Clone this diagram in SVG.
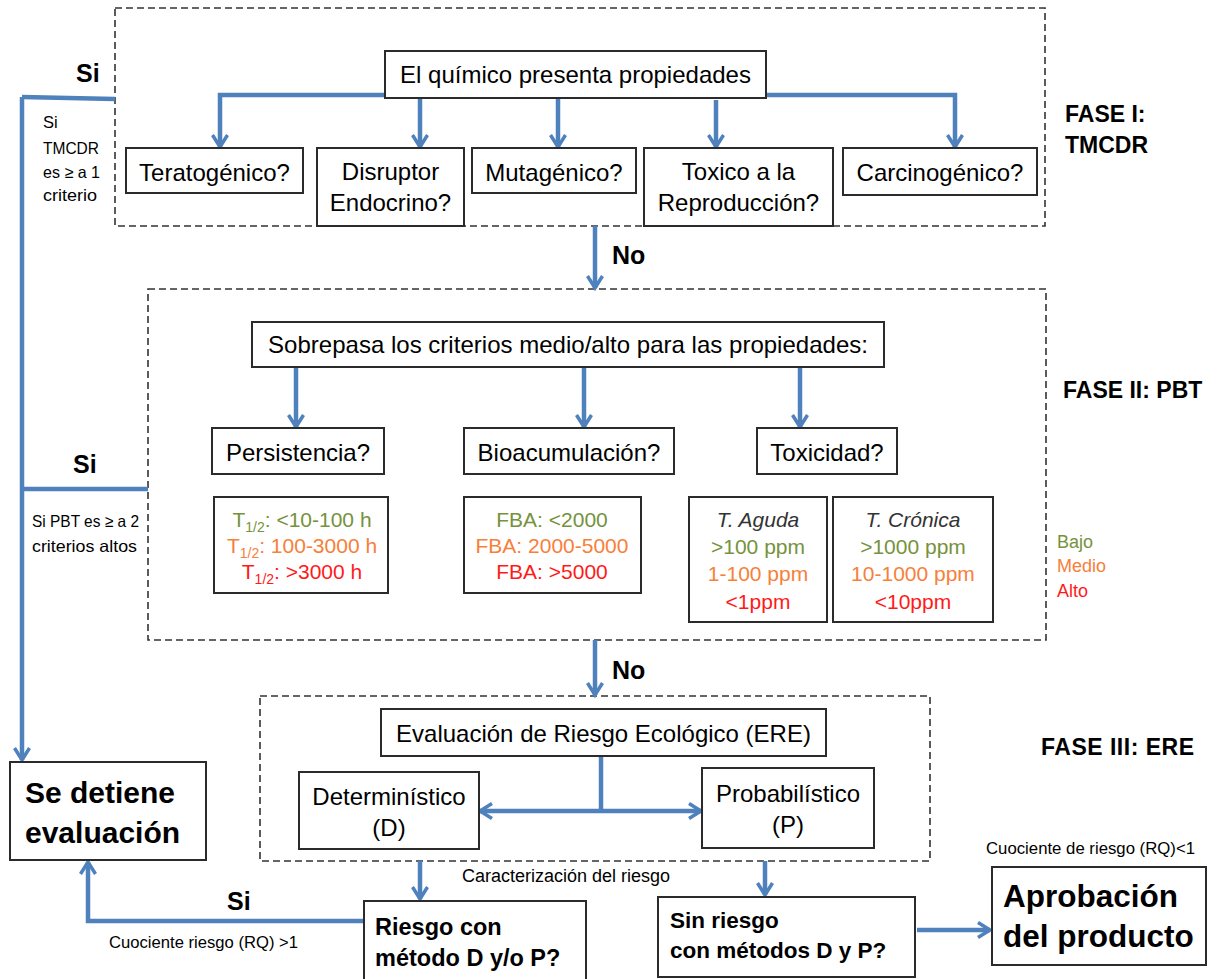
<svg xmlns="http://www.w3.org/2000/svg" width="1217" height="979" viewBox="0 0 1217 979">
<style>
text{font-family:"Liberation Sans",Arial,sans-serif;fill:#000}
.lbl{font-size:24px;text-anchor:middle}
.box{fill:#fff;stroke:#2b2b2b;stroke-width:2}
.dash{fill:none;stroke:#333;stroke-width:1.6;stroke-dasharray:7 4}
.c{fill:none;stroke:#4F81BD;stroke-width:4.5}
.ca{fill:none;stroke:#4F81BD;stroke-width:4.5;marker-end:url(#ah)}
.b{font-weight:bold}
.sm{font-size:16.5px}
.g{fill:#76923C}.o{fill:#F7803A}.r{fill:#FF1A1A}
.crit{font-size:21px;text-anchor:middle}
</style>
<defs>
<marker id="ah" viewBox="0 0 18 18" refX="14" refY="9" markerWidth="18" markerHeight="18" markerUnits="userSpaceOnUse" orient="auto">
<path d="M2,1.5 L14,9 L2,16.5" fill="none" stroke="#4F81BD" stroke-width="3.5"/>
</marker>
</defs>

<rect class="dash" x="115" y="8" width="930" height="218"/>
<rect class="dash" x="148" y="289" width="898" height="351"/>
<rect class="dash" x="260" y="696" width="670" height="165"/>

<g id="connectors">
<path class="ca" d="M385,95 H220 V147"/>
<path class="ca" d="M766,95 H955 V147"/>
<path class="ca" d="M420,98 V147"/>
<path class="ca" d="M558,98 V147"/>
<path class="ca" d="M716,100 V147"/>
<path class="ca" d="M595,226 V288"/>
<path class="c" d="M115,99 L22,97"/>
<path class="ca" d="M22,97 V760"/>
<path class="c" d="M148,489 H22"/>
<path class="ca" d="M296,367 V427"/>
<path class="ca" d="M584,367 V427"/>
<path class="ca" d="M800,367 V427"/>
<path class="ca" d="M595,640 V695"/>
<path class="c" d="M601,756 V811"/>
<path class="ca" d="M601,811 H480"/>
<path class="ca" d="M601,811 H701"/>
<path class="ca" d="M420,861 V899"/>
<path class="ca" d="M765,861 V895"/>
<path class="ca" d="M364,921 H88 V862"/>
<path class="ca" d="M917,930 H990"/>
</g>

<g id="n-quimico"><rect class="box" x="385" y="51" width="381" height="47"/><text class="lbl" x="575.5" y="83">El químico presenta propiedades</text></g>
<g id="n-terato"><rect class="box" x="126" y="148" width="177" height="45"/><text class="lbl" x="214.5" y="181" font-size="23">Teratogénico?</text></g>
<g id="n-disruptor"><rect class="box" x="317" y="148" width="147" height="78"/><text class="lbl" x="390.5" y="180">Disruptor</text><text class="lbl" x="390.5" y="211">Endocrino?</text></g>
<g id="n-muta"><rect class="box" x="472" y="148" width="164" height="45"/><text class="lbl" x="554" y="181">Mutagénico?</text></g>
<g id="n-repro"><rect class="box" x="644" y="148" width="189" height="78"/><text class="lbl" x="738.5" y="180">Toxico a la</text><text class="lbl" x="738.5" y="211">Reproducción?</text></g>
<g id="n-carcino"><rect class="box" x="843" y="148" width="194" height="47"/><text class="lbl" x="940" y="181">Carcinogénico?</text></g>

<g id="l-fase1"><text class="b" x="1065" y="122" font-size="23">FASE I:</text><text class="b" x="1065" y="153" font-size="23">TMCDR</text></g>
<g id="l-si1"><text class="b" x="76" y="82" font-size="25">Si</text>
<text class="sm" x="43" y="128">Si</text><text class="sm" x="43" y="154" textLength="56" lengthAdjust="spacingAndGlyphs">TMCDR</text><text class="sm" x="43" y="178" textLength="57" lengthAdjust="spacingAndGlyphs">es ≥ a 1</text><text class="sm" x="43" y="201" textLength="54" lengthAdjust="spacingAndGlyphs">criterio</text></g>
<g id="l-no1"><text class="b" x="612" y="264" font-size="25">No</text></g>

<g id="n-sobrepasa"><rect class="box" x="252" y="322" width="632" height="45"/><text class="lbl" x="568" y="353" textLength="600">Sobrepasa los criterios medio/alto para las propiedades:</text></g>
<g id="n-persist"><rect class="box" x="212" y="428" width="172" height="46"/><text class="lbl" x="298" y="461">Persistencia?</text></g>
<g id="n-bioacum"><rect class="box" x="464" y="428" width="210" height="46"/><text class="lbl" x="569" y="461">Bioacumulación?</text></g>
<g id="n-toxic"><rect class="box" x="757" y="428" width="140" height="46"/><text class="lbl" x="827" y="461">Toxicidad?</text></g>

<g id="n-t12"><rect class="box" x="214" y="497" width="174" height="96"/>
<text class="crit g" x="302" y="527">T<tspan font-size="14" dy="5">1/2</tspan><tspan dy="-5">: &lt;10-100 h</tspan></text>
<text class="crit o" x="302" y="553">T<tspan font-size="14" dy="5">1/2</tspan><tspan dy="-5">: 100-3000 h</tspan></text>
<text class="crit r" x="302" y="579">T<tspan font-size="14" dy="5">1/2</tspan><tspan dy="-5">: &gt;3000 h</tspan></text></g>
<g id="n-fba"><rect class="box" x="464" y="497" width="177" height="96"/>
<text class="crit g" x="552" y="527">FBA: &lt;2000</text>
<text class="crit o" x="552" y="553">FBA: 2000-5000</text>
<text class="crit r" x="552" y="579">FBA: &gt;5000</text></g>
<g id="n-aguda"><rect class="box" x="689" y="497" width="138" height="125"/>
<text class="crit" x="758" y="527" font-style="italic" style="fill:#333">T. Aguda</text>
<text class="crit g" x="758" y="554">&gt;100 ppm</text>
<text class="crit o" x="758" y="581">1-100 ppm</text>
<text class="crit r" x="758" y="609">&lt;1ppm</text></g>
<g id="n-cronica"><rect class="box" x="833" y="497" width="160" height="125"/>
<text class="crit" x="913" y="527" font-style="italic" style="fill:#333">T. Crónica</text>
<text class="crit g" x="913" y="554">&gt;1000 ppm</text>
<text class="crit o" x="913" y="581">10-1000 ppm</text>
<text class="crit r" x="913" y="609">&lt;10ppm</text></g>
<g id="l-legend"><text class="g" x="1057" y="548" font-size="18">Bajo</text><text class="o" x="1057" y="572" font-size="18">Medio</text><text class="r" x="1057" y="597" font-size="18">Alto</text></g>
<g id="l-fase2"><text class="b" x="1063" y="398" font-size="23">FASE II: PBT</text></g>
<g id="l-si2"><text class="b" x="73" y="473" font-size="25">Si</text>
<text class="sm" x="32" y="527" textLength="107" lengthAdjust="spacingAndGlyphs">Si PBT es ≥ a 2</text><text class="sm" x="32" y="552" textLength="105" lengthAdjust="spacingAndGlyphs">criterios altos</text></g>
<g id="l-no2"><text class="b" x="612" y="679" font-size="25">No</text></g>

<g id="n-ere"><rect class="box" x="381" y="709" width="445" height="47"/><text class="lbl" x="603.5" y="742" font-size="22.5">Evaluación de Riesgo Ecológico (ERE)</text></g>
<g id="n-det"><rect class="box" x="299" y="772" width="180" height="77"/><text class="lbl" x="389" y="805" font-size="23">Determinístico</text><text class="lbl" x="389" y="836" font-size="23">(D)</text></g>
<g id="n-prob"><rect class="box" x="702" y="768" width="172" height="80"/><text class="lbl" x="788" y="802" font-size="23">Probabilístico</text><text class="lbl" x="788" y="833" font-size="23">(P)</text></g>
<g id="l-fase3"><text class="b" x="1041" y="755" font-size="23" textLength="153">FASE III: ERE</text></g>
<g id="l-caract"><text x="462" y="882" font-size="18">Caracterización del riesgo</text></g>

<g id="n-detiene"><rect class="box" x="10" y="762" width="196" height="98"/><text class="b" x="25" y="803" font-size="30">Se detiene</text><text class="b" x="25" y="843" font-size="30">evaluación</text></g>
<g id="n-riesgo"><rect class="box" x="364" y="901" width="222" height="80"/><text class="b" x="375" y="935" font-size="23.5">Riesgo con</text><text class="b" x="375" y="966" font-size="23.5">método D y/o P?</text></g>
<g id="n-sinriesgo"><rect class="box" x="658" y="897" width="257" height="80"/><text class="b" x="670" y="928" font-size="22.5">Sin riesgo</text><text class="b" x="670" y="958" font-size="22.5">con métodos D y P?</text></g>
<g id="n-aprob"><rect class="box" x="992" y="867" width="214" height="98"/><text class="b" x="1003" y="907" font-size="31.5">Aprobación</text><text class="b" x="1003" y="947" font-size="31.5">del producto</text></g>
<g id="l-si3"><text class="b" x="227" y="910" font-size="25">Si</text><text class="sm" x="109" y="948" textLength="189" lengthAdjust="spacingAndGlyphs">Cuociente riesgo (RQ) &gt;1</text></g>
<g id="l-rq1"><text class="sm" x="986" y="854" textLength="209" lengthAdjust="spacingAndGlyphs">Cuociente de riesgo (RQ)&lt;1</text></g>
</svg>
